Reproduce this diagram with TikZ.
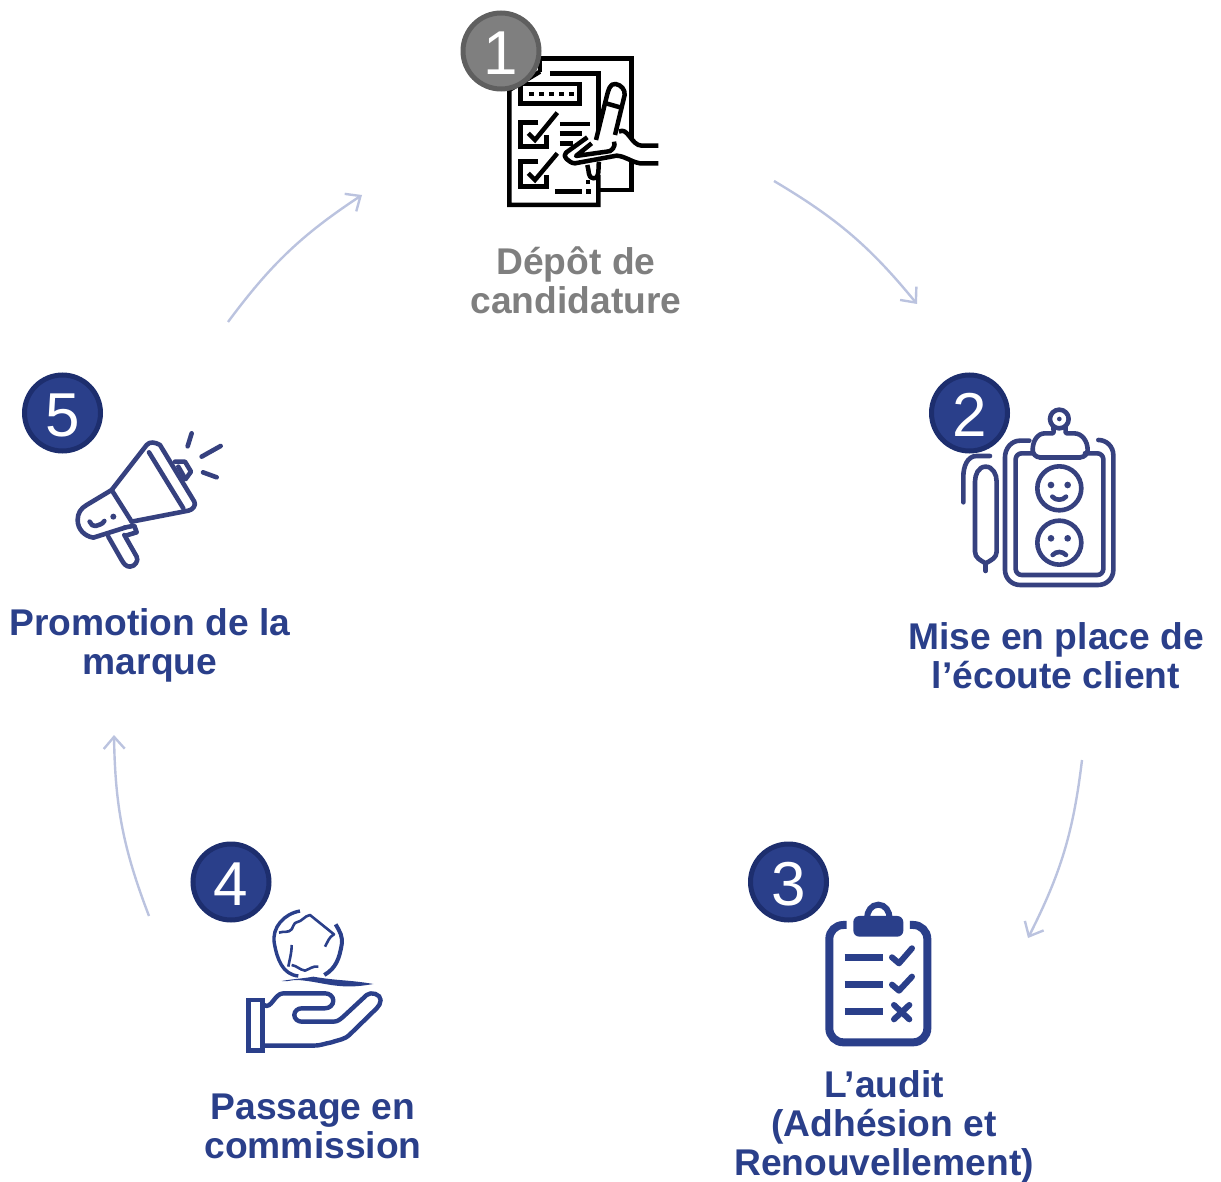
\documentclass[tikz,border=0pt]{standalone}
\usepackage{fontspec}
\setmainfont{Liberation Sans}
\usetikzlibrary{arrows.meta}
\definecolor{navy}{HTML}{2A3F8A}
\definecolor{navydark}{HTML}{1D2E6E}
\definecolor{slateicon}{HTML}{36417F}
\definecolor{stepgrey}{HTML}{7F7F7F}
\definecolor{stepgreydark}{HTML}{5F5F5F}
\definecolor{arcline}{HTML}{BBC3DF}
\tikzset{
  badge/.style={circle, fill=navy, draw=navydark, line width=5pt, minimum size=76pt, inner sep=0pt, text=white, text height=47pt, text depth=0pt, font=\fontsize{62}{62}\selectfont},
  steplabel/.style={align=center, text=navy, font=\fontsize{37.2}{38.8}\selectfont\bfseries},
  flowarc/.style={arcline, line width=2.4pt, -{Straight Barb[length=12pt, width=21pt, line width=2.4pt]}},
  iconline/.style={line width=4.6pt, line cap=round, line join=round},
  zoomed/.style={x=0.3333pt, y=-0.3333pt}
}
\begin{document}
\begin{tikzpicture}[x=1pt, y=-1pt]
  \useasboundingbox (0,0) rectangle (1221,1182);

  \coordinate (arc1a) at (774,181);
  \coordinate (arc1b) at (917,304);
  \coordinate (arc2a) at (1082,760);
  \coordinate (arc2b) at (1028,938);
  \coordinate (arc3a) at (149,916);
  \coordinate (arc3b) at (114,735);
  \coordinate (arc4a) at (228,322);
  \coordinate (arc4b) at (362,195);
  \draw[flowarc] (arc1a) to[bend left=10] (arc1b);
  \draw[flowarc] (arc2a) to[bend left=10] (arc2b);
  \draw[flowarc] (arc3a) to[bend left=10] (arc3b);
  \draw[flowarc] (arc4a) to[bend left=10] (arc4b);

  % submission form
  \begin{scope}[shift={(450,0)}, zoomed, black, line width=4.5pt]
    \draw (270,215) -- (270,175) -- (545,175) -- (545,570) -- (445,570);
    \draw (270,215) -- (178,270) -- (178,615) -- (445,615) -- (445,525);
    \draw (300,220) -- (445,220) -- (445,400);
    \draw (212,252) rectangle (388,310);
    \foreach \dotx in {238,268,298,328,358}
      \fill (\dotx,275) rectangle ++(14,14);
    \draw (265,367) -- (212,367) -- (212,440) -- (290,440) -- (290,405);
    \draw (235,400) -- (255,420) -- (322,338);
    \draw (330,372) -- (420,372);
    \draw (330,400) -- (395,400);
    \draw (330,430) -- (370,430);
    \draw (265,485) -- (212,485) -- (212,560) -- (290,560) -- (290,525);
    \draw (235,520) -- (255,540) -- (322,460);
    \draw (315,575) -- (395,575);
    \fill (408,568) rectangle ++(14,14);
    \fill (408,540) rectangle ++(12,12);
    \fill[white] (625,437) -- (575,437) to[out=180, in=30] (507,395) -- (412,412) -- (348,458) to[out=-145, in=180] (375,490) -- (500,467) to[out=-5, in=170] (570,490) -- (625,490) -- cycle;
    \filldraw[fill=white, line join=round] (438,420) -- (470,290) to[out=75, in=170] (497,252) to[out=-10, in=85] (524,285) -- (495,405);
    \draw (468,310) -- (510,322);
    \draw[line join=round] (625,437) -- (575,437) to[out=180, in=30] (507,395);
    \draw[line join=round] (412,412) -- (348,458) to[out=-145, in=180] (375,490) -- (500,467) to[out=-5, in=170] (570,490) -- (625,490);
    \draw[line join=round] (425,430) -- (378,468) -- (470,455) to[out=-10, in=-60] (492,425);
    \draw[line join=round] (412,495) to[out=-70, in=180] (430,535) to[out=0, in=-100] (447,485);
  \end{scope}

  % listening clipboard
  \begin{scope}[shift={(920,370)}, zoomed, iconline, slateicon]
    \draw (328,212) -- (300,212) to[out=180, in=90] (255,262) -- (255,600) to[out=-90, in=180] (300,645) -- (535,645) to[out=0, in=-90] (580,600) -- (580,255) to[out=90, in=0] (535,210);
    \draw (340,250) -- (305,250) to[out=180, in=90] (287,268) -- (287,597) to[out=-90, in=180] (305,615) -- (532,615) to[out=0, in=-90] (550,597) -- (550,268) to[out=90, in=0] (532,250) -- (495,250);
    \draw (360,262) to[out=180, in=-90] (338,240) to[out=90, in=180] (375,190) -- (398,190) to[out=20, in=-110] (400,170);
    \draw (480,262) to[out=0, in=-90] (503,240) to[out=90, in=0] (462,190) -- (440,190) to[out=160, in=-70] (437,170);
    \draw (360,262) -- (480,262);
    \draw (418,147) circle (28);
    \fill (418,147) circle (7);
    \draw (418,355) circle (66);
    \fill (393,345) circle (10);
    \fill (443,345) circle (10);
    \draw (397,380) to[out=-50, in=-130] (438,380);
    \draw (418,518) circle (66);
    \fill (393,505) circle (10);
    \fill (443,505) circle (10);
    \draw (398,555) to[out=50, in=130] (438,555);
    \draw (197,290) to[out=180, in=90] (165,335) -- (165,545) to[out=-90, in=150] (197,580) to[out=30, in=-90] (230,545) -- (230,335) to[out=90, in=0] (197,290);
    \draw (197,580) -- (197,603);
    \draw (130,397) -- (130,320) to[out=90, in=180] (170,258) -- (210,258);
  \end{scope}

  % audit checklist
  \begin{scope}[shift={(740,835)}, zoomed, navy]
    \draw[line width=8pt] (320,270) -- (310,270) to[out=180, in=90] (268,312) -- (268,580) to[out=-90, in=180] (310,622) -- (520,622) to[out=0, in=-90] (562,580) -- (562,312) to[out=90, in=0] (520,270) -- (510,270);
    \fill[rounded corners=6pt] (340,243) rectangle (490,305);
    \draw[line width=6pt] (381,250) to[out=90, in=180] (415,209) to[out=0, in=90] (449,250);
    \draw[line width=7pt] (314,367) -- (428,367);
    \draw[line width=7pt] (314,449) -- (428,449);
    \draw[line width=7pt] (314,531) -- (428,531);
    \draw[line width=6pt, line cap=round, line join=round] (456,367) -- (477,385) -- (516,340);
    \draw[line width=6pt, line cap=round, line join=round] (456,449) -- (477,467) -- (516,425);
    \draw[line width=6pt, line cap=round] (462,510) -- (508,553);
    \draw[line width=6pt, line cap=round] (508,510) -- (462,553);
  \end{scope}

  % hand holding the ball
  \begin{scope}[shift={(185,835)}, zoomed, navy]
    \draw[line width=3.4pt] (345,228) to[out=190, in=100] (268,325) to[out=-80, in=175] (340,423);
    \draw[line width=4pt] (452,268) to[out=-60, in=80] (470,330) to[out=-100, in=30] (418,420);
    \draw[line width=2.6pt, line join=round] (282,293) to[out=20, in=-130] (320,283) to[out=50, in=190] (335,262) to[out=10, in=190] (375,240) -- (447,298) to[out=-150, in=60] (420,335);
    \draw[line width=2.6pt, line join=round] (320,330) to[out=-90, in=80] (310,395);
    \draw[line width=2.6pt, line join=round] (320,390) to[out=-10, in=170] (360,407) to[out=20, in=170] (400,395);
    \fill (290,438) to[out=10, in=190] (385,425) to[out=-10, in=170] (565,447) to[out=190, in=-10] (420,447) to[out=170, in=-5] (340,435) to[out=175, in=-10] cycle;
    \draw[line width=4.4pt] (190,495) rectangle (232,647);
    \draw[line width=4.4pt, line join=round] (237,510) to[out=-35, in=180] (295,475) -- (420,475) to[out=0, in=90] (445,497) to[out=-90, in=0] (420,520) -- (350,520) to[out=180, in=90] (328,540) to[out=-90, in=180] (350,560) -- (445,560) to[out=0, in=-140] (475,545) -- (545,480) to[out=40, in=90] (587,495) to[out=-90, in=50] (575,520) -- (495,598) to[out=-135, in=20] (440,622) to[out=-170, in=0] (385,632) -- (237,632);
  \end{scope}

  % megaphone
  \begin{scope}[shift={(15,365)}, zoomed, iconline, slateicon]
    \draw (290,375) -- (395,240) to[out=50, in=150] (435,240) -- (538,410) to[out=-60, in=10] (520,437) -- (350,470);
    \draw (402,262) -- (505,430);
    \draw (290,375) -- (350,470);
    \draw (290,375) -- (215,420) to[out=-150, in=90] (188,465) to[out=-90, in=170] (235,518) -- (330,488);
    \draw (280,515) -- (320,585) to[out=-60, in=180] (345,605) to[out=0, in=-60] (365,575) -- (328,510);
    \draw (328,488) -- (358,482) -- (365,502) -- (332,512);
    \draw (224,470) to[out=-60, in=200] (242,483) to[out=20, in=-120] (268,468);
    \fill (295,455) circle (9);
    \draw (480,290) -- (510,290) -- (528,320) -- (512,342);
    \draw (490,305) -- (510,340);
    \draw (518,244) -- (530,205);
    \draw (560,275) -- (617,243);
    \draw (564,322) -- (605,337);
  \end{scope}

  \node[badge, fill=stepgrey, draw=stepgreydark] (step1) at (501,51) {1};
  \node[badge] (step2) at (969.5,413) {2};
  \node[badge] (step3) at (788.5,882) {3};
  \node[badge] (step4) at (231,882) {4};
  \node[badge] (step5) at (62.5,413) {5};

  \node[steplabel, text=stepgrey] (label1) at (576,280.5) {Dépôt de\\candidature};
  \node[steplabel] (label2) at (1056,656) {Mise en place de\\l’écoute client};
  \node[steplabel] (label3) at (884,1127) {L’audit\\(Adhésion et\\Renouvellement)};
  \node[steplabel] (label4) at (313,1126.5) {Passage en\\commission};
  \node[steplabel] (label5) at (150,645) {Promotion de la\\marque};
\end{tikzpicture}
\end{document}
